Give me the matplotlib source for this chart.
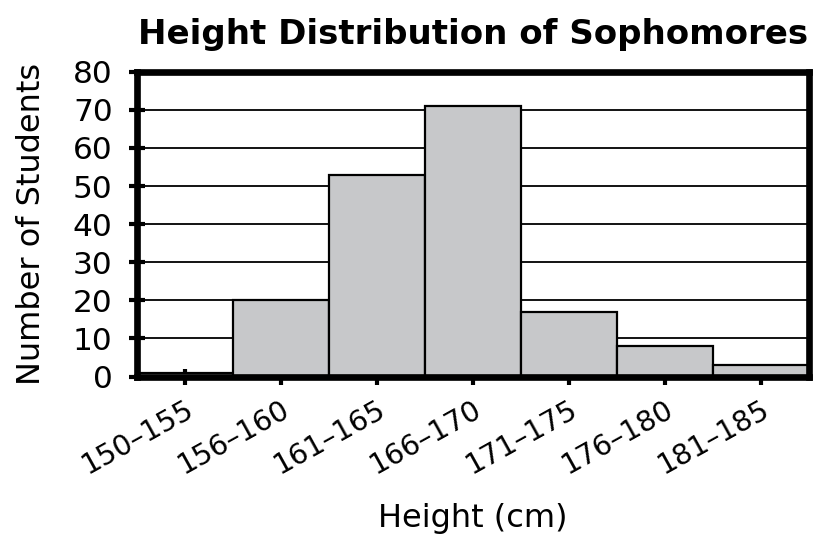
import numpy as np
import matplotlib.pyplot as plt
from matplotlib.transforms import ScaledTranslation

# Datos del histograma
categories = ['150–155', '156–160', '161–165', '166–170', '171–175', '176–180', '181–185']
counts = [1, 20, 53, 71, 17, 8, 3]
y_ticks = [0, 10, 20, 30, 40, 50, 60, 70, 80]

plt.rcParams['font.family'] = 'DejaVu Sans'

fig = plt.figure(figsize=(8.16, 5.55), dpi=100)
ax = fig.add_axes([0.168, 0.3216, 0.823, 0.549])

x = np.arange(len(categories))
ax.bar(x, counts, width=1.0, color='#c7c8ca', edgecolor='black', linewidth=1.6, zorder=3)

ax.set_xlim(-0.5, len(categories) - 0.5)
ax.set_ylim(0, 80)
ax.set_yticks(y_ticks)
ax.set_xticks(x)
ax.set_xticklabels(categories, rotation=29, ha='right', va='top', rotation_mode='anchor')

# Desplazar etiquetas del eje x hacia la derecha
offset = ScaledTranslation(22 / 100, 0, fig.dpi_scale_trans)
for lbl in ax.get_xticklabels():
    lbl.set_transform(lbl.get_transform() + offset)

# Líneas horizontales de la cuadrícula
ax.yaxis.grid(True, color='black', linewidth=1.3, zorder=1)
ax.set_axisbelow(True)

for spine in ax.spines.values():
    spine.set_linewidth(4.8)
    spine.set_zorder(5)

ax.tick_params(axis='y', direction='inout', length=11, width=3, labelsize=22.5, pad=12)
ax.tick_params(axis='x', direction='inout', length=11, width=3, labelsize=20.5, pad=8)

ax.set_title('Height Distribution of Sophomores', fontsize=24.5, fontweight='bold', pad=20)
ax.set_xlabel('Height (cm)', fontsize=23, labelpad=17)
ax.set_ylabel('Number of Students', fontsize=23, labelpad=19)

plt.savefig('out.png', dpi=100)
